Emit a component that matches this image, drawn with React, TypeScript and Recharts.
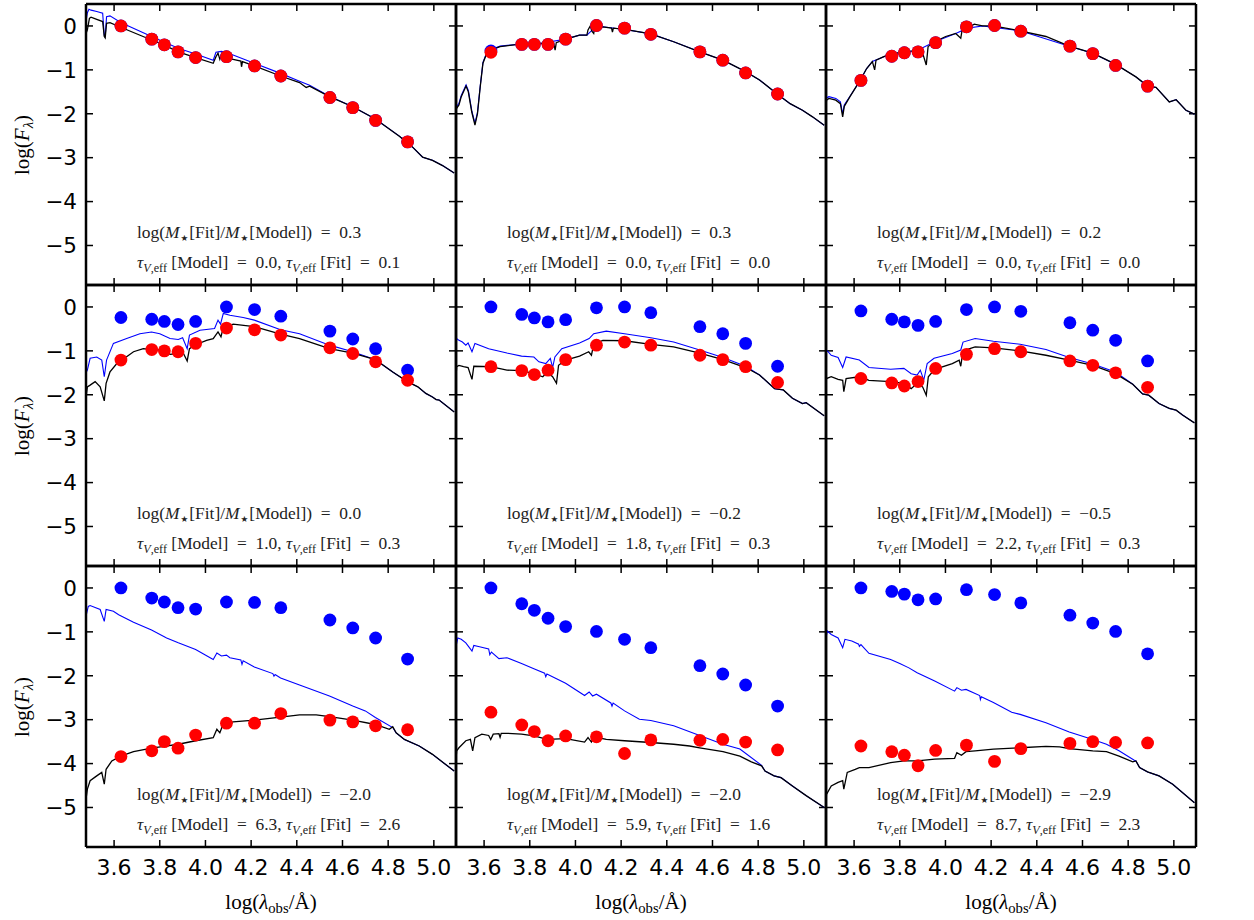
import React from 'react';
import { ComposedChart, Line, Scatter, XAxis, YAxis, ReferenceLine } from 'recharts';

type Pt = [number, number];

const X_DOMAIN: [number, number] = [3.477, 5.097];
const Y_DOMAIN: [number, number] = [-5.9, 0.5];
const xTicks = [3.6, 3.8, 4.0, 4.2, 4.4, 4.6, 4.8, 5.0];
const yTicks = [0, -1, -2, -3, -4, -5];

// photometric band positions, log(lambda_obs / A)
const bandX = [3.63, 3.765, 3.82, 3.88, 3.957, 4.092, 4.215, 4.33, 4.545, 4.645, 4.745, 4.885];

// ---- row 1 ----
const red11 = [0.0, -0.30, -0.43, -0.59, -0.72, -0.70, -0.91, -1.14, -1.63, -1.86, -2.15, -2.64];
const bdot11 = [0.0, -0.30, -0.43, -0.59, -0.72, -0.70, -0.91, -1.14, -1.63, -1.86, -2.15, -2.64];
const red12 = [-0.60, -0.42, -0.42, -0.42, -0.30, 0.01, -0.05, -0.19, -0.59, -0.78, -1.07, -1.55];
const bdot12 = [-0.57, -0.42, -0.42, -0.42, -0.30, 0.01, -0.05, -0.19, -0.59, -0.78, -1.07, -1.55];
const red13 = [-1.24, -0.69, -0.61, -0.59, -0.38, -0.02, 0.01, -0.12, -0.46, -0.63, -0.90, -1.37];
const bdot13 = [-1.24, -0.69, -0.61, -0.59, -0.38, -0.02, 0.01, -0.12, -0.46, -0.63, -0.90, -1.37];
// ---- row 2 ----
const red21 = [-1.21, -0.97, -1.00, -1.02, -0.83, -0.48, -0.52, -0.64, -0.93, -1.06, -1.25, -1.67];
const bdot21 = [-0.24, -0.28, -0.33, -0.40, -0.33, 0.0, -0.06, -0.21, -0.55, -0.73, -0.95, -1.44];
const red22 = [-1.36, -1.45, -1.54, -1.44, -1.20, -0.87, -0.80, -0.87, -1.10, -1.20, -1.36, -1.72];
const bdot22 = [0.0, -0.17, -0.25, -0.34, -0.29, -0.02, 0.0, -0.13, -0.45, -0.61, -0.83, -1.35];
const red23 = [-1.63, -1.73, -1.80, -1.70, -1.40, -1.08, -0.95, -1.02, -1.23, -1.33, -1.50, -1.83];
const bdot23 = [-0.09, -0.28, -0.34, -0.42, -0.33, -0.06, 0.0, -0.10, -0.36, -0.53, -0.76, -1.23];
// ---- row 3 ----
const red31 = [-3.84, -3.71, -3.50, -3.65, -3.35, -3.08, -3.08, -2.86, -3.01, -3.05, -3.14, -3.23];
const bdot31 = [0.0, -0.23, -0.32, -0.45, -0.48, -0.32, -0.33, -0.45, -0.73, -0.91, -1.14, -1.62];
const red32 = [-2.83, -3.12, -3.27, -3.48, -3.37, -3.39, -3.77, -3.46, -3.47, -3.45, -3.51, -3.69];
const bdot32 = [0.0, -0.36, -0.51, -0.69, -0.88, -0.99, -1.17, -1.36, -1.77, -1.96, -2.21, -2.69];
const red33 = [-3.60, -3.73, -3.81, -4.05, -3.70, -3.58, -3.95, -3.66, -3.54, -3.50, -3.52, -3.53];
const bdot33 = [0.0, -0.08, -0.14, -0.27, -0.25, -0.04, -0.15, -0.34, -0.62, -0.80, -0.99, -1.50];

// ---- spectra: [log lambda, log F] ----
const black11: Pt[] = [[3.477,-0.17],[3.483,-0.09],[3.492,0.175],[3.499,0.2],[3.524,0.15],[3.55,0.1],[3.557,-0.24],[3.561,-0.27],[3.567,0.06],[3.582,0.075],[3.629,-0.03],[3.764,-0.32],[3.818,-0.43],[3.881,-0.59],[3.957,-0.72],[4.034,-0.85],[4.046,-0.7],[4.055,-0.62],[4.063,-0.76],[4.07,-0.64],[4.077,-0.78],[4.084,-0.66],[4.092,-0.74],[4.121,-0.76],[4.155,-0.8],[4.158,-0.93],[4.162,-0.81],[4.214,-0.91],[4.329,-1.14],[4.412,-1.29],[4.441,-1.4],[4.456,-1.37],[4.543,-1.61],[4.645,-1.84],[4.744,-2.12],[4.849,-2.51],[4.907,-2.76],[4.951,-2.99],[4.994,-3.06],[5.038,-3.18],[5.089,-3.35]];
const blue11: Pt[] = [[3.477,0.1],[3.483,0.3],[3.49,0.38],[3.499,0.36],[3.524,0.33],[3.55,0.29],[3.557,-0.22],[3.561,-0.24],[3.567,0.21],[3.582,0.23],[3.629,0.08],[3.764,-0.24],[3.881,-0.51],[3.957,-0.64],[4.034,-0.78],[4.046,-0.6],[4.07,-0.58],[4.092,-0.61],[4.121,-0.66],[4.214,-0.85],[4.329,-1.08],[4.412,-1.26],[4.456,-1.35],[4.543,-1.6],[4.645,-1.84],[4.744,-2.12],[4.849,-2.51],[4.907,-2.76],[4.951,-2.99],[4.994,-3.06],[5.038,-3.18],[5.089,-3.35]];

const black12: Pt[] = [[3.477,-2.0],[3.479,-1.88],[3.49,-1.8],[3.5,-1.61],[3.521,-1.37],[3.531,-1.5],[3.546,-1.96],[3.56,-2.26],[3.571,-2.0],[3.583,-1.39],[3.595,-0.85],[3.612,-0.62],[3.629,-0.55],[3.67,-0.47],[3.764,-0.41],[3.845,-0.4],[3.905,-0.4],[3.911,-0.55],[3.916,-0.38],[3.957,-0.3],[4.018,-0.21],[4.05,-0.21],[4.055,-0.09],[4.065,0.0],[4.072,-0.12],[4.08,-0.17],[4.085,0.0],[4.092,0.0],[4.106,-0.03],[4.12,-0.02],[4.158,-0.05],[4.162,-0.14],[4.166,-0.05],[4.217,-0.08],[4.33,-0.18],[4.43,-0.36],[4.544,-0.59],[4.646,-0.78],[4.745,-1.04],[4.806,-1.23],[4.886,-1.56],[4.94,-1.77],[4.994,-1.92],[5.038,-2.07],[5.089,-2.26]];
const blue12: Pt[] = [[3.477,-1.95],[3.479,-1.84],[3.49,-1.76],[3.5,-1.58],[3.521,-1.34],[3.531,-1.47],[3.546,-1.93],[3.56,-2.22],[3.571,-1.97],[3.583,-1.37],[3.595,-0.83],[3.612,-0.6],[3.629,-0.54],[3.67,-0.46],[3.764,-0.41],[3.845,-0.4],[3.957,-0.3],[4.018,-0.21],[4.05,-0.21],[4.092,0.0],[4.217,-0.08],[4.33,-0.18],[4.43,-0.36],[4.544,-0.59],[4.646,-0.78],[4.745,-1.04],[4.806,-1.23],[4.886,-1.56],[4.94,-1.77],[4.994,-1.92],[5.038,-2.07],[5.089,-2.26]];

const black13: Pt[] = [[3.477,-1.92],[3.479,-1.69],[3.49,-1.65],[3.52,-1.69],[3.54,-1.77],[3.55,-2.07],[3.557,-1.83],[3.582,-1.61],[3.623,-1.27],[3.655,-0.97],[3.68,-0.81],[3.69,-1.0],[3.696,-0.78],[3.73,-0.7],[3.76,-0.64],[3.818,-0.59],[3.876,-0.56],[3.9,-0.62],[3.916,-0.89],[3.924,-0.47],[3.953,-0.36],[4.001,-0.24],[4.045,-0.17],[4.067,-0.28],[4.075,-0.03],[4.097,-0.05],[4.126,0.04],[4.162,0.0],[4.21,0.0],[4.327,-0.11],[4.44,-0.24],[4.542,-0.46],[4.645,-0.62],[4.744,-0.87],[4.834,-1.16],[4.885,-1.37],[4.922,-1.4],[4.98,-1.73],[5.01,-1.68],[5.053,-1.92],[5.09,-2.01]];
const blue13: Pt[] = [[3.477,-1.88],[3.479,-1.64],[3.49,-1.61],[3.52,-1.65],[3.54,-1.73],[3.55,-2.0],[3.557,-1.8],[3.582,-1.6],[3.623,-1.27],[3.655,-0.97],[3.68,-0.81],[3.76,-0.64],[3.876,-0.56],[3.953,-0.36],[4.045,-0.17],[4.097,-0.05],[4.162,0.0],[4.327,-0.11],[4.542,-0.46],[4.645,-0.62],[4.744,-0.87],[4.834,-1.16],[4.885,-1.37],[4.922,-1.4],[4.98,-1.73],[5.01,-1.68],[5.053,-1.92],[5.09,-2.01]];

const black21: Pt[] = [[3.477,-2.06],[3.483,-1.82],[3.495,-1.78],[3.517,-1.7],[3.539,-1.82],[3.557,-2.14],[3.565,-1.74],[3.582,-1.48],[3.612,-1.29],[3.629,-1.23],[3.685,-1.02],[3.728,-0.95],[3.764,-0.97],[3.818,-0.98],[3.845,-1.08],[3.881,-1.06],[3.9,-1.02],[3.92,-1.23],[3.93,-0.95],[3.957,-0.86],[4.005,-0.76],[4.034,-0.72],[4.055,-0.57],[4.068,-0.68],[4.08,-0.42],[4.092,-0.48],[4.121,-0.39],[4.214,-0.45],[4.329,-0.62],[4.412,-0.72],[4.543,-0.95],[4.645,-1.05],[4.744,-1.2],[4.82,-1.48],[4.884,-1.7],[4.93,-1.82],[4.965,-1.97],[4.994,-2.05],[5.01,-2.11],[5.023,-2.12],[5.089,-2.39]];
const blue21: Pt[] = [[3.477,-1.5],[3.483,-1.44],[3.495,-1.17],[3.524,-1.14],[3.546,-1.21],[3.557,-1.59],[3.567,-1.21],[3.597,-0.83],[3.655,-0.72],[3.713,-0.61],[3.764,-0.57],[3.8,-0.61],[3.845,-0.72],[3.881,-0.74],[3.9,-0.7],[3.92,-0.95],[3.93,-0.64],[3.976,-0.53],[4.04,-0.49],[4.055,-0.3],[4.066,-0.39],[4.078,-0.15],[4.107,-0.19],[4.165,-0.24],[4.214,-0.3],[4.329,-0.52],[4.412,-0.61],[4.543,-0.87],[4.645,-1.02],[4.744,-1.2],[4.82,-1.48],[4.884,-1.7],[4.93,-1.82],[4.965,-1.97],[4.994,-2.05],[5.01,-2.11],[5.023,-2.12],[5.089,-2.39]];

const black22: Pt[] = [[3.477,-1.59],[3.48,-1.36],[3.49,-1.33],[3.51,-1.36],[3.53,-1.38],[3.547,-1.65],[3.555,-1.35],[3.629,-1.36],[3.7,-1.44],[3.764,-1.45],[3.818,-1.52],[3.857,-1.59],[3.877,-1.48],[3.9,-1.59],[3.917,-1.74],[3.926,-1.33],[3.957,-1.21],[4.018,-1.12],[4.058,-1.02],[4.07,-1.1],[4.08,-0.85],[4.12,-0.76],[4.215,-0.77],[4.33,-0.85],[4.43,-0.91],[4.544,-1.05],[4.646,-1.2],[4.745,-1.38],[4.806,-1.55],[4.872,-1.86],[4.91,-1.89],[4.95,-2.08],[4.994,-2.2],[5.01,-2.18],[5.089,-2.48]];
const blue22: Pt[] = [[3.477,-0.95],[3.48,-0.72],[3.49,-0.76],[3.505,-0.8],[3.52,-0.87],[3.53,-0.82],[3.547,-1.02],[3.56,-0.83],[3.62,-0.95],[3.7,-1.05],[3.764,-1.12],[3.818,-1.14],[3.84,-1.25],[3.87,-1.29],[3.89,-1.17],[3.9,-1.38],[3.91,-1.14],[3.94,-0.95],[4.018,-0.82],[4.06,-0.72],[4.08,-0.61],[4.135,-0.55],[4.215,-0.61],[4.33,-0.7],[4.43,-0.8],[4.544,-0.98],[4.646,-1.15],[4.745,-1.35],[4.806,-1.55],[4.872,-1.86],[4.91,-1.89],[4.95,-2.08],[4.994,-2.2],[5.01,-2.18],[5.089,-2.48]];

const black23: Pt[] = [[3.477,-1.89],[3.479,-1.63],[3.5,-1.59],[3.53,-1.65],[3.55,-1.67],[3.555,-1.93],[3.565,-1.63],[3.623,-1.59],[3.665,-1.67],[3.76,-1.7],[3.818,-1.74],[3.85,-1.86],[3.876,-1.74],[3.9,-1.82],[3.916,-2.01],[3.925,-1.59],[3.953,-1.42],[4.03,-1.29],[4.06,-1.21],[4.067,-1.35],[4.077,-1.0],[4.13,-0.91],[4.21,-0.93],[4.327,-1.0],[4.44,-1.1],[4.542,-1.21],[4.645,-1.33],[4.744,-1.52],[4.82,-1.76],[4.863,-1.98],[4.89,-2.01],[4.935,-2.2],[4.98,-2.31],[5.01,-2.35],[5.038,-2.46],[5.09,-2.64]];
const blue23: Pt[] = [[3.477,-1.02],[3.483,-1.0],[3.5,-1.1],[3.53,-1.15],[3.55,-1.38],[3.565,-1.14],[3.623,-1.21],[3.665,-1.38],[3.76,-1.42],[3.818,-1.4],[3.85,-1.52],[3.876,-1.55],[3.89,-1.44],[3.905,-1.67],[3.92,-1.29],[3.95,-1.17],[4.03,-1.06],[4.067,-0.98],[4.077,-0.8],[4.13,-0.72],[4.21,-0.78],[4.327,-0.85],[4.44,-0.97],[4.542,-1.15],[4.645,-1.3],[4.744,-1.48],[4.82,-1.76],[4.863,-1.98],[4.89,-2.01],[4.935,-2.2],[4.98,-2.31],[5.01,-2.35],[5.038,-2.46],[5.09,-2.64]];

const black31: Pt[] = [[3.477,-4.81],[3.483,-4.58],[3.495,-4.39],[3.524,-4.28],[3.546,-4.2],[3.557,-4.47],[3.565,-4.13],[3.59,-3.94],[3.629,-3.83],[3.685,-3.73],[3.764,-3.65],[3.818,-3.61],[3.881,-3.56],[3.957,-3.48],[4.034,-3.41],[4.05,-3.22],[4.063,-3.3],[4.077,-3.11],[4.121,-3.05],[4.214,-3.01],[4.329,-2.94],[4.412,-2.89],[4.485,-2.89],[4.543,-2.93],[4.645,-3.01],[4.744,-3.11],[4.805,-3.22],[4.82,-3.16],[4.835,-3.3],[4.871,-3.45],[4.936,-3.6],[4.994,-3.79],[5.089,-4.17]];
const blue31: Pt[] = [[3.477,-0.64],[3.487,-0.42],[3.495,-0.4],[3.539,-0.49],[3.557,-0.76],[3.565,-0.49],[3.597,-0.53],[3.62,-0.61],[3.685,-0.78],[3.764,-0.96],[3.83,-1.14],[3.881,-1.25],[3.957,-1.4],[4.034,-1.63],[4.05,-1.48],[4.07,-1.55],[4.092,-1.53],[4.107,-1.59],[4.155,-1.64],[4.16,-1.74],[4.165,-1.66],[4.214,-1.8],[4.295,-1.95],[4.3,-2.01],[4.305,-1.97],[4.329,-2.05],[4.412,-2.21],[4.543,-2.46],[4.645,-2.69],[4.7,-2.8],[4.744,-2.95],[4.82,-3.18],[4.835,-3.3],[4.871,-3.45],[4.936,-3.6],[4.994,-3.79],[5.089,-4.17]];

const black32: Pt[] = [[3.477,-3.9],[3.48,-3.71],[3.49,-3.64],[3.52,-3.48],[3.54,-3.45],[3.55,-3.71],[3.56,-3.41],[3.59,-3.33],[3.62,-3.36],[3.629,-3.45],[3.64,-3.33],[3.665,-3.32],[3.67,-3.4],[3.675,-3.31],[3.7,-3.31],[3.764,-3.33],[3.818,-3.37],[3.877,-3.45],[3.957,-3.43],[4.04,-3.51],[4.055,-3.41],[4.07,-3.51],[4.08,-3.39],[4.135,-3.45],[4.215,-3.48],[4.33,-3.52],[4.43,-3.56],[4.5,-3.6],[4.544,-3.64],[4.646,-3.73],[4.72,-3.83],[4.77,-3.96],[4.815,-4.05],[4.83,-4.17],[4.87,-4.28],[4.9,-4.32],[4.95,-4.51],[5.01,-4.73],[5.089,-5.0]];
const blue32: Pt[] = [[3.477,-1.33],[3.485,-1.14],[3.5,-1.17],[3.52,-1.25],[3.547,-1.44],[3.555,-1.31],[3.58,-1.34],[3.62,-1.39],[3.625,-1.52],[3.632,-1.46],[3.665,-1.61],[3.7,-1.59],[3.764,-1.72],[3.818,-1.84],[3.865,-1.94],[3.87,-2.02],[3.875,-1.96],[3.957,-2.17],[4.04,-2.45],[4.06,-2.37],[4.075,-2.46],[4.092,-2.42],[4.155,-2.62],[4.16,-2.69],[4.165,-2.62],[4.215,-2.8],[4.28,-2.99],[4.33,-3.02],[4.43,-3.14],[4.544,-3.36],[4.646,-3.56],[4.72,-3.67],[4.815,-4.04],[4.83,-4.17],[4.87,-4.28],[4.9,-4.32],[4.95,-4.51],[5.01,-4.73],[5.089,-5.0]];

const black33: Pt[] = [[3.477,-4.98],[3.479,-4.7],[3.5,-4.51],[3.53,-4.43],[3.55,-4.39],[3.555,-4.58],[3.57,-4.2],[3.605,-4.13],[3.623,-4.09],[3.665,-4.09],[3.76,-3.98],[3.818,-3.94],[3.876,-3.94],[3.953,-3.9],[4.04,-3.88],[4.05,-3.75],[4.07,-3.81],[4.09,-3.73],[4.13,-3.71],[4.21,-3.67],[4.327,-3.64],[4.44,-3.61],[4.5,-3.62],[4.542,-3.66],[4.645,-3.71],[4.705,-3.73],[4.76,-3.83],[4.82,-3.96],[4.834,-3.94],[4.85,-4.09],[4.885,-4.19],[4.935,-4.28],[4.995,-4.47],[5.09,-4.89]];
const blue33: Pt[] = [[3.477,-1.14],[3.483,-0.98],[3.5,-1.06],[3.53,-1.14],[3.55,-1.36],[3.56,-1.17],[3.59,-1.21],[3.62,-1.28],[3.623,-1.33],[3.63,-1.29],[3.665,-1.49],[3.76,-1.63],[3.8,-1.72],[3.84,-1.82],[3.876,-1.93],[3.953,-2.12],[4.04,-2.35],[4.05,-2.27],[4.07,-2.33],[4.09,-2.31],[4.15,-2.45],[4.153,-2.54],[4.157,-2.48],[4.21,-2.61],[4.29,-2.83],[4.327,-2.88],[4.44,-3.07],[4.542,-3.28],[4.645,-3.45],[4.705,-3.56],[4.76,-3.71],[4.825,-3.92],[4.834,-3.94],[4.85,-4.09],[4.885,-4.19],[4.935,-4.28],[4.995,-4.47],[5.09,-4.89]];

// annotation values
const massRatio = ['0.3', '0.3', '0.2', '0.0', '\u22120.2', '\u22120.5', '\u22122.0', '\u22122.0', '\u22122.9'];
const tauModel = ['0.0', '0.0', '0.0', '1.0', '1.8', '2.2', '6.3', '5.9', '8.7'];
const tauFit = ['0.1', '0.0', '0.0', '0.3', '0.3', '0.3', '2.6', '1.6', '2.3'];

const blacks = [black11, black12, black13, black21, black22, black23, black31, black32, black33];
const blues = [blue11, blue12, blue13, blue21, blue22, blue23, blue31, blue32, blue33];
const reds = [red11, red12, red13, red21, red22, red23, red31, red32, red33];
const bdots = [bdot11, bdot12, bdot13, bdot21, bdot22, bdot23, bdot31, bdot32, bdot33];

const PLOT_LEFT = 86;
const PLOT_TOP = 4;
const PW = 370;
const PH = 281;
const TICK_PX = 7;
// tick-mark length converted into data units through the panel size
const TICK_DX = (TICK_PX * (X_DOMAIN[1] - X_DOMAIN[0])) / PW;
const TICK_DY = (TICK_PX * (Y_DOMAIN[1] - Y_DOMAIN[0])) / PH;

const tickFont = '"DejaVu Sans", sans-serif';
const mathFont = '"Liberation Serif", "DejaVu Serif", serif';

const toObj = (a: Pt[]) => a.map(([x, y]) => ({ x, y }));
const dotObj = (ys: number[]) => bandX.map((x, i) => ({ x, y: ys[i] }));
const fmtY = (v: number) => (v < 0 ? '\u2212' + Math.abs(v) : String(v));
const fmtX = (v: number) => Number(v).toFixed(1);

const frame = { stroke: '#000', strokeWidth: 2.5 };

const makeTick = (side: 'b' | 't' | 'l' | 'r', show: boolean) => (props: any) => {
  const { x, y, payload } = props;
  const v = payload ? payload.value : 0;
  if (!show) return <g />;
  if (side === 'b') {
    return (
      <text x={x} y={y + 12} dy="0.73em" textAnchor="middle" fontSize={22} fontFamily={tickFont} fill="#000">
        {fmtX(v)}
      </text>
    );
  }
  if (side === 'l') {
    return (
      <text x={x - 9} y={y} dy="0.36em" textAnchor="end" fontSize={21.5} fontFamily={tickFont} fill="#000">
        {fmtY(v)}
      </text>
    );
  }
  return (
    <text x={x + 10} y={y} dy="0.36em" textAnchor="start" fontSize={21.5} fontFamily={tickFont} fill="#000">
      {fmtY(v)}
    </text>
  );
};

const RedDot = (props: any) => <circle cx={props.cx} cy={props.cy} r={6.4} fill="#ff0000" />;
const BlueDot = (props: any) => <circle cx={props.cx} cy={props.cy} r={6.4} fill="#0000ff" />;

function Panel({ idx }: { idx: number }) {
  const r = Math.floor(idx / 3);
  const c = idx % 3;
  const hasLeft = c === 0;
  const hasRight = c === 2;
  const hasBottom = r === 2;
  const lw = hasLeft ? PLOT_LEFT : 4;
  const rw = hasRight ? 58 : 4;
  const bh = hasBottom ? 50 : 4;
  const th = 4;
  const w = PW + lw + rw;
  const h = PH + bh + th;
  const tickStroke = { stroke: '#000', strokeWidth: 1.5 };
  return (
    <div style={{ position: 'absolute', left: PLOT_LEFT + c * PW - lw, top: PLOT_TOP + r * PH - th }}>
      <ComposedChart width={w} height={h} margin={{ top: 0, right: 0, bottom: 0, left: 0 }}>
        <XAxis xAxisId="b" orientation="bottom" height={bh} type="number" dataKey="x" domain={X_DOMAIN}
          ticks={xTicks} interval={0} tickSize={0} tickMargin={0} tickLine={false}
          tick={makeTick('b', hasBottom)} axisLine={frame} />
        <XAxis xAxisId="t" orientation="top" height={th} type="number" dataKey="x" domain={X_DOMAIN}
          ticks={xTicks} interval={0} tickSize={0} tickMargin={0} tickLine={false}
          tick={makeTick('t', false)} axisLine={frame} />
        <YAxis yAxisId="l" orientation="left" width={lw} type="number" dataKey="y" domain={Y_DOMAIN}
          ticks={yTicks} interval={0} tickSize={0} tickMargin={0} tickLine={false}
          tick={makeTick('l', hasLeft)} axisLine={frame} />
        <YAxis yAxisId="r" orientation="right" width={rw} type="number" dataKey="y" domain={Y_DOMAIN}
          ticks={yTicks} interval={0} tickSize={0} tickMargin={0} tickLine={false}
          tick={makeTick('r', hasRight)} axisLine={frame} />
        {xTicks.map((t) => (
          <ReferenceLine key={'tb' + t} xAxisId="b" yAxisId="l" ifOverflow="visible" {...tickStroke}
            segment={[{ x: t, y: Y_DOMAIN[0] }, { x: t, y: Y_DOMAIN[0] + TICK_DY }]} />
        ))}
        {xTicks.map((t) => (
          <ReferenceLine key={'tt' + t} xAxisId="b" yAxisId="l" ifOverflow="visible" {...tickStroke}
            segment={[{ x: t, y: Y_DOMAIN[1] }, { x: t, y: Y_DOMAIN[1] - TICK_DY }]} />
        ))}
        {yTicks.map((v) => (
          <ReferenceLine key={'tl' + v} xAxisId="b" yAxisId="l" ifOverflow="visible" {...tickStroke}
            segment={[{ x: X_DOMAIN[0], y: v }, { x: X_DOMAIN[0] + TICK_DX, y: v }]} />
        ))}
        {yTicks.map((v) => (
          <ReferenceLine key={'tr' + v} xAxisId="b" yAxisId="l" ifOverflow="visible" {...tickStroke}
            segment={[{ x: X_DOMAIN[1], y: v }, { x: X_DOMAIN[1] - TICK_DX, y: v }]} />
        ))}
        <Scatter xAxisId="b" yAxisId="l" data={dotObj(bdots[idx])} dataKey="y" shape={BlueDot}
          isAnimationActive={false} />
        <Scatter xAxisId="b" yAxisId="l" data={dotObj(reds[idx])} dataKey="y" shape={RedDot}
          isAnimationActive={false} />
        <Line xAxisId="b" yAxisId="l" data={toObj(blues[idx])} dataKey="y" type="linear" stroke="#0000ff"
          strokeWidth={1.1} dot={false} activeDot={false} isAnimationActive={false} />
        <Line xAxisId="b" yAxisId="l" data={toObj(blacks[idx])} dataKey="y" type="linear" stroke="#000000"
          strokeWidth={1.3} dot={false} activeDot={false} isAnimationActive={false} />
      </ComposedChart>
    </div>
  );
}

const subStyle: React.CSSProperties = { fontSize: '0.7em', position: 'relative', top: '0.3em', lineHeight: 0 };
const starStyle: React.CSSProperties = { fontSize: '0.5em', position: 'relative', top: '0.35em', lineHeight: 0, fontFamily: '"DejaVu Sans", sans-serif', margin: '0 1px' };

function Annotation({ idx }: { idx: number }) {
  const r = Math.floor(idx / 3);
  const c = idx % 3;
  const left = PLOT_LEFT + c * PW + 51;
  const top = PLOT_TOP + r * PH;
  const base: React.CSSProperties = {
    position: 'absolute', left, fontFamily: mathFont, fontSize: 17.4, color: '#222',
    whiteSpace: 'nowrap', lineHeight: '20px',
  };
  return (
    <>
      <div style={{ ...base, top: top + 218 }}>
        log(<i>M</i><span style={starStyle}>★</span>[Fit]/<i>M</i><span style={starStyle}>★</span>[Model])
        {'\u00a0\u00a0=\u00a0\u00a0'}{massRatio[idx]}
      </div>
      <div style={{ ...base, top: top + 248 }}>
        <i>τ</i><span style={subStyle}><i>V</i>,eff</span>{'\u00a0'}[Model]{'\u00a0\u00a0=\u00a0\u00a0'}{tauModel[idx]},{'\u00a0'}
        <i>τ</i><span style={subStyle}><i>V</i>,eff</span>{'\u00a0'}[Fit]{'\u00a0\u00a0=\u00a0\u00a0'}{tauFit[idx]}
      </div>
    </>
  );
}

export default function App() {
  const idxs = [0, 1, 2, 3, 4, 5, 6, 7, 8];
  return (
    <div style={{ position: 'absolute', left: 0, top: 0, width: 1254, height: 920, background: '#fff', overflow: 'hidden' }}>
      {idxs.map((i) => (
        <Panel key={'p' + i} idx={i} />
      ))}
      {idxs.map((i) => (
        <Annotation key={'a' + i} idx={i} />
      ))}
      {[0, 1, 2].map((r) => (
        <div key={'yl' + r} style={{
          position: 'absolute', left: 22, top: PLOT_TOP + r * PH + PH / 2,
          transform: 'translate(-50%, -50%) rotate(-90deg)', fontFamily: mathFont, fontSize: 21,
          whiteSpace: 'nowrap', color: '#000', lineHeight: '24px',
        }}>
          log(<i>F</i><span style={subStyle}><i>λ</i></span>)
        </div>
      ))}
      {[0, 1, 2].map((c) => (
        <div key={'xl' + c} style={{
          position: 'absolute', left: PLOT_LEFT + c * PW + PW / 2, top: 902,
          transform: 'translate(-50%, -50%)', fontFamily: mathFont, fontSize: 21,
          whiteSpace: 'nowrap', color: '#000', lineHeight: '24px',
        }}>
          log(<i>λ</i><span style={subStyle}>obs</span>/Å)
        </div>
      ))}
    </div>
  );
}
